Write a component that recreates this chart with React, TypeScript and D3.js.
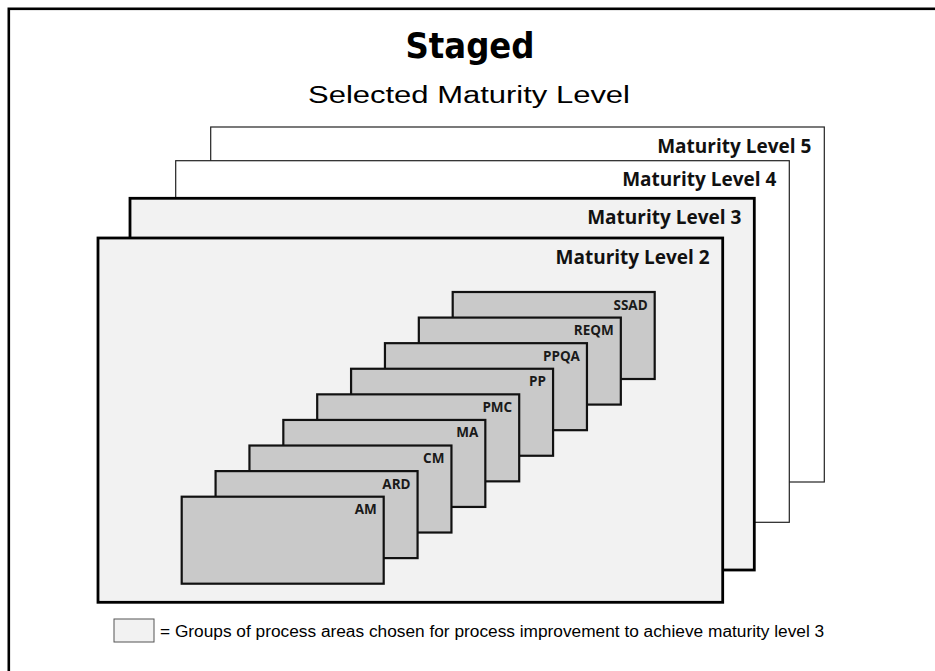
import React from 'react';
import * as d3 from 'd3';

// maturity levels, drawn back to front
const levels = [5, 4, 3, 2];
const levelNames = ['Maturity Level 5', 'Maturity Level 4', 'Maturity Level 3', 'Maturity Level 2'];
const selectedLevels = [3, 2];

// process areas of level 2, drawn back to front
const processAreas = ['SSAD', 'REQM', 'PPQA', 'PP', 'PMC', 'MA', 'CM', 'ARD', 'AM'];

const title = 'Staged';
const subtitle = 'Selected Maturity Level';
const legendText = '= Groups of process areas chosen for process improvement to achieve maturity level 3';

const W = 935;
const H = 671;

const App = () => {
  // stacking of the level sheets (piecewise, the sheets are not evenly spaced)
  const lvX0 = d3.scaleLinear().domain([5, 4, 3, 2]).range([210.7, 175.7, 130, 98]);
  const lvX1 = d3.scaleLinear().domain([5, 4, 3, 2]).range([824.3, 789.3, 754.3, 722.7]);
  const lvY0 = d3.scaleLinear().domain([5, 4, 3, 2]).range([127, 160.7, 198.3, 238]);
  const lvY1 = d3.scaleLinear().domain([5, 4, 3, 2]).range([482, 522.3, 570, 602.3]);

  // stacking of the process area cards
  const n = processAreas.length - 1;
  const paX = d3.scaleLinear().domain([0, n]).range([452.7, 181.7]);
  const paY = d3.scaleLinear().domain([0, n]).range([292, 496.7]);
  const cardW = 202;
  const cardH = 87;

  return (
    <svg width={W} height={H} style={{ position: 'absolute', left: 0, top: 0, background: '#fff' }}>
      <rect x={8.8} y={8.8} width={W + 20} height={H + 20} fill="#fff" stroke="#000" strokeWidth={2.6} />

      <text x={470} y={58} textAnchor="middle"
        style={{ fontFamily: '"DejaVu Sans Condensed", "DejaVu Sans", sans-serif', fontWeight: 700, fontSize: 36 }}>
        {title}
      </text>
      <text x={469} y={103} textAnchor="middle" textLength={322} lengthAdjust="spacingAndGlyphs"
        style={{ fontFamily: '"Liberation Sans", Arial, sans-serif', fontSize: 23 }}>
        {subtitle}
      </text>

      {levels.map((lv, i) => {
        const sel = selectedLevels.includes(lv);
        return (
          <g key={lv}>
            <rect x={lvX0(lv)} y={lvY0(lv)} width={lvX1(lv) - lvX0(lv)} height={lvY1(lv) - lvY0(lv)}
              fill={sel ? '#f2f2f2' : '#fff'} stroke={sel ? '#000' : '#222'} strokeWidth={sel ? 2.8 : 1.2} />
            <text x={lvX1(lv) - 13} y={lvY0(lv) + 25.5} textAnchor="end" fill="#111"
              style={{ fontFamily: '"Open Sans", sans-serif', fontWeight: 700, fontSize: 19 }}>
              {levelNames[i]}
            </text>
          </g>
        );
      })}

      {processAreas.map((pa, i) => (
        <g key={pa}>
          <rect x={paX(i)} y={paY(i)} width={cardW} height={cardH}
            fill="#c9c9c9" stroke="#111" strokeWidth={2.2} />
          <text x={paX(i) + cardW - 7} y={paY(i) + 17.5} textAnchor="end" fill="#1a1a1a"
            style={{ fontFamily: '"Open Sans", sans-serif', fontWeight: 700, fontSize: 13.5 }}>
            {pa}
          </text>
        </g>
      ))}

      <rect x={114} y={619} width={40} height={23} fill="#f2f2f2" stroke="#555" strokeWidth={1} />
      <text x={160} y={636.5}
        style={{ fontFamily: '"Liberation Sans", Arial, sans-serif', fontSize: 17.3 }}>
        {legendText}
      </text>
    </svg>
  );
};

export default App;
